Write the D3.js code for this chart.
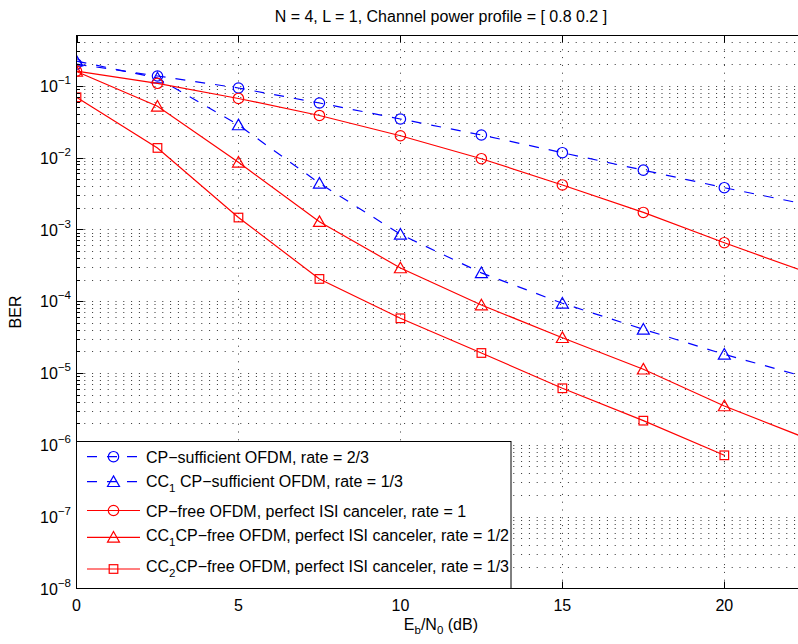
<!DOCTYPE html>
<html><head><meta charset="utf-8">
<script src="https://cdn.jsdelivr.net/npm/d3@7"></script>
<style>
body{margin:0;background:#fff}
svg{display:block}
text{font-family:"Liberation Sans",Arial,Helvetica,sans-serif;fill:#000}
</style>
</head><body>
<svg id="c" width="798" height="644"></svg>
<script>
// ---------------- data ----------------
const snr = [0, 2.5, 5, 7.5, 10, 12.5, 15, 17.5, 20, 22.5];
const cpSufficient   = [0.2, 0.1365, 0.0929, 0.0574, 0.0344, 0.0206, 0.01167, 0.00667, 0.0038, 0.00224];
const cc1CpSufficient= [0.22, 0.128, 0.0284, 0.00438, 0.000853, 0.000248, 9.35e-5, 4.06e-5, 1.82e-5, 8.8e-6];
const cpFree         = [0.16, 0.108, 0.0664, 0.0385, 0.0201, 0.00963, 0.00415, 0.00172, 0.000652, 0.000256];
const cc1CpFree      = [0.158, 0.0517, 0.00859, 0.00128, 0.00029, 8.85e-5, 3.10e-5, 1.13e-5, 3.48e-6, 1.25e-6];
const cc2CpFree      = [0.069, 0.0136, 0.00146, 0.000204, 5.78e-5, 1.90e-5, 6.13e-6, 2.17e-6, 7.15e-7];
const xTicks = [0, 5, 10, 15, 20];
const yTickExps = [-8, -7, -6, -5, -4, -3, -2, -1];
const titleText = "N = 4, L = 1, Channel power profile = [ 0.8 0.2 ]";
const legendLabels = [
  [["CP−sufficient OFDM, rate = 2/3", 0]],
  [["CC", 0], ["1", 1], [" CP−sufficient OFDM, rate = 1/3", 0]],
  [["CP−free OFDM, perfect ISI canceler, rate = 1", 0]],
  [["CC", 0], ["1", 1], ["CP−free OFDM, perfect ISI canceler, rate = 1/2", 0]],
  [["CC", 0], ["2", 1], ["CP−free OFDM, perfect ISI canceler, rate = 1/3", 0]]
];

// ---------------- layout ----------------
const svg = d3.select("#c");
const X0 = 76.5, X1 = 805.3;
const x = d3.scaleLinear().domain([0, 22.5]).range([X0, X1]);
const y = d3.scaleLog().domain([1e-8, 1e-1]).range([588.5, 85.7]);
const Ytop = Math.round(y(0.5)) + 0.5;
const Ybot = 588.5;

const series = [
  {v: cpSufficient,    color: "#0000ff", dash: "10,10", marker: "circle"},
  {v: cc1CpSufficient, color: "#0000ff", dash: "10,10", marker: "triangle"},
  {v: cpFree,          color: "#ff0000", dash: null,    marker: "circle"},
  {v: cc1CpFree,       color: "#ff0000", dash: null,    marker: "triangle"},
  {v: cc2CpFree,       color: "#ff0000", dash: null,    marker: "square"}
];

// grid
const gridG = svg.append("g").attr("stroke", "#333").attr("stroke-width", 1).attr("stroke-dasharray", "1,6.8");
const gridVals = [];
for (let e = -8; e <= -1; e++) for (let m = 1; m <= 9; m++) {
  const v = m * Math.pow(10, e);
  if (v > 1e-8 && v <= 0.55) gridVals.push(v);
}
gridG.selectAll("line.h").data(gridVals).join("line")
  .attr("x1", X0).attr("x2", X1)
  .attr("y1", d => Math.round(y(d)) + 0.5).attr("y2", d => Math.round(y(d)) + 0.5);
gridG.selectAll("line.v").data(xTicks.filter(d => d > 0)).join("line")
  .attr("x1", d => Math.round(x(d)) + 0.5).attr("x2", d => Math.round(x(d)) + 0.5)
  .attr("y1", Ybot).attr("y2", Ytop);

// series
svg.append("clipPath").attr("id", "pc").append("rect")
  .attr("x", X0).attr("y", Ytop).attr("width", X1 - X0).attr("height", Ybot - Ytop);
const plotG = svg.append("g").attr("clip-path", "url(#pc)");
const line = d3.line().x((d, i) => x(snr[i])).y(d => y(d));

function drawMarker(g, type, cx, cy, color) {
  if (type === "circle") {
    g.append("circle").attr("cx", cx).attr("cy", cy).attr("r", 5.2)
      .attr("fill", "none").attr("stroke", color).attr("stroke-width", 1.2);
  } else if (type === "triangle") {
    g.append("path").attr("d", `M${cx},${cy - 5.8}L${cx + 6},${cy + 4.8}L${cx - 6},${cy + 4.8}Z`)
      .attr("fill", "none").attr("stroke", color).attr("stroke-width", 1.2);
  } else {
    g.append("rect").attr("x", cx - 4.3).attr("y", cy - 4.3).attr("width", 8.6).attr("height", 8.6)
      .attr("fill", "none").attr("stroke", color).attr("stroke-width", 1.2);
  }
}

series.forEach(s => {
  plotG.append("path").attr("d", line(s.v)).attr("fill", "none")
    .attr("stroke", s.color).attr("stroke-width", 1.2)
    .attr("stroke-dasharray", s.dash);
  s.v.forEach((d, i) => drawMarker(plotG, s.marker, x(snr[i]), y(d), s.color));
});

// axes box and ticks
const axG = svg.append("g").attr("stroke", "#000").attr("stroke-width", 1).attr("fill", "none");
axG.append("rect").attr("x", X0).attr("y", Ytop).attr("width", X1 - X0).attr("height", Ybot - Ytop);
xTicks.forEach(t => {
  const px = Math.round(x(t)) + 0.5;
  axG.append("line").attr("x1", px).attr("x2", px).attr("y1", Ybot).attr("y2", Ybot - 7);
  axG.append("line").attr("x1", px).attr("x2", px).attr("y1", Ytop).attr("y2", Ytop + 7);
});
gridVals.forEach(v => {
  const py = Math.round(y(v)) + 0.5;
  const major = Math.abs(Math.log10(v) - Math.round(Math.log10(v))) < 1e-9;
  axG.append("line").attr("x1", X0).attr("x2", X0 + (major ? 7 : 3.5)).attr("y1", py).attr("y2", py);
});

// tick labels
const FS = 16;
svg.selectAll("text.xt").data(xTicks).join("text")
  .attr("x", d => x(d)).attr("y", 611).attr("text-anchor", "middle")
  .attr("font-size", FS).text(d => d);
yTickExps.forEach(e => {
  const t = svg.append("text").attr("x", 71).attr("y", y(Math.pow(10, e)) + 6.3)
    .attr("text-anchor", "end").attr("font-size", FS);
  t.append("tspan").text("10");
  t.append("tspan").attr("font-size", 11.5).attr("dy", -8).text("−" + Math.abs(e));
});

// title & labels
svg.append("text").attr("x", (X0 + X1) / 2).attr("y", 22).attr("text-anchor", "middle")
  .attr("font-size", FS).text(titleText);
const xl = svg.append("text").attr("x", (X0 + X1) / 2).attr("y", 630).attr("text-anchor", "middle")
  .attr("font-size", FS);
xl.append("tspan").text("E");
xl.append("tspan").attr("font-size", 11.5).attr("dy", 4).text("b");
xl.append("tspan").attr("dy", -4).text("/N");
xl.append("tspan").attr("font-size", 11.5).attr("dy", 4).text("0");
xl.append("tspan").attr("dy", -4).text(" (dB)");
svg.append("text").attr("transform", `translate(21,${(Ytop + Ybot) / 2}) rotate(-90)`)
  .attr("text-anchor", "middle").attr("font-size", FS).text("BER");

// legend
const LX = 76.5, LY = 441.5, LW = 434.5, LH = Ybot - 441.5;
const legG = svg.append("g");
legG.append("rect").attr("x", LX).attr("y", LY).attr("width", LW).attr("height", LH)
  .attr("fill", "#fff").attr("stroke", "#000").attr("stroke-width", 1);
const rowBase = [463, 487, 516.7, 540.5, 571.5];
const rowLine = [456.7, 481.7, 510.5, 537.3, 569];
series.forEach((s, i) => {
  legG.append("line").attr("x1", 87).attr("x2", 140).attr("y1", rowLine[i]).attr("y2", rowLine[i])
    .attr("stroke", s.color).attr("stroke-width", 1.2).attr("stroke-dasharray", s.dash);
  drawMarker(legG, s.marker, 113.5, rowLine[i], s.color);
  const t = legG.append("text").attr("x", 146).attr("y", rowBase[i]).attr("font-size", FS);
  let shifted = 0;
  legendLabels[i].forEach(([txt, sub]) => {
    const ts = t.append("tspan").text(txt);
    if (sub) { ts.attr("font-size", 11.5).attr("dy", 5); shifted = 5; }
    else if (shifted) { ts.attr("dy", -shifted); shifted = 0; }
  });
});
</script>
</body></html>
